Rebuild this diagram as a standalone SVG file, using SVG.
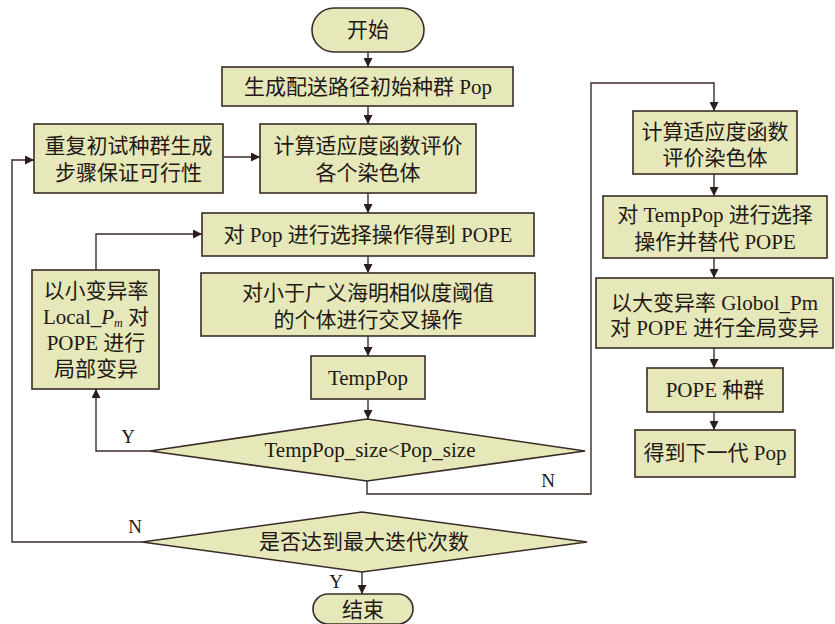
<svg xmlns="http://www.w3.org/2000/svg" width="835" height="624" viewBox="0 0 835 624">
<defs>
<style>
.n{fill:#e6e8b9;stroke:#3a2b26;stroke-width:1.6}
.t{font-family:"Liberation Serif","Noto Sans CJK SC",serif;font-size:21px;fill:#231815;text-anchor:middle}
.l{font-family:"Liberation Serif",serif;font-size:19px;fill:#231815;text-anchor:middle}
.c{fill:none;stroke:#3a2b26;stroke-width:1.4}
</style>
<marker id="a" viewBox="0 0 10 10" refX="10" refY="5" markerWidth="9" markerHeight="9" markerUnits="userSpaceOnUse" orient="auto">
<path d="M0,0 L10,5 L0,10 Z" fill="#2a1d1a"/>
</marker>
</defs>
<rect width="835" height="624" fill="#ffffff"/>
<g id="connectors">
<path class="c" marker-end="url(#a)" d="M368,52 V67"/>
<path class="c" marker-end="url(#a)" d="M368,106 V124"/>
<path class="c" marker-end="url(#a)" d="M223,157 H260"/>
<path class="c" marker-end="url(#a)" d="M142,542 H12 V160 H34"/>
<path class="c" marker-end="url(#a)" d="M368,193 V213"/>
<path class="c" marker-end="url(#a)" d="M368,256 V273"/>
<path class="c" marker-end="url(#a)" d="M368,336 V356"/>
<path class="c" marker-end="url(#a)" d="M368,399 V419"/>
<path class="c" marker-end="url(#a)" d="M150,451 H96 V389"/>
<path class="c" marker-end="url(#a)" d="M96,270 V234 H202"/>
<path class="c" marker-end="url(#a)" d="M367,481 V494 H591 V83 H714 V111"/>
<path class="c" marker-end="url(#a)" d="M714,174 V196"/>
<path class="c" marker-end="url(#a)" d="M714,258 V278"/>
<path class="c" marker-end="url(#a)" d="M714,348 V368"/>
<path class="c" marker-end="url(#a)" d="M714,412 V430"/>
<path class="c" marker-end="url(#a)" d="M362,572 V594"/>
<text class="l" x="128" y="443">Y</text>
<text class="l" x="548" y="487">N</text>
<text class="l" x="135" y="533">N</text>
<text class="l" x="336" y="588">Y</text>
</g>
<g id="start"><rect class="n" x="312" y="8" width="112" height="44" rx="22"/><text class="t" x="368" y="37">开始</text></g>
<g id="init"><rect class="n" x="222" y="67" width="291" height="39"/><text class="t" x="368" y="94">生成配送路径初始种群 Pop</text></g>
<g id="fit1"><rect class="n" x="260" y="124" width="216" height="69"/><text class="t" x="368" y="153">计算适应度函数评价</text><text class="t" x="368" y="180">各个染色体</text></g>
<g id="repeat"><rect class="n" x="34" y="124" width="189" height="69"/><text class="t" x="128.5" y="153">重复初试种群生成</text><text class="t" x="128.5" y="180">步骤保证可行性</text></g>
<g id="select"><rect class="n" x="202" y="213" width="332" height="43"/><text class="t" x="368" y="242">对 Pop 进行选择操作得到 POPE</text></g>
<g id="cross"><rect class="n" x="201" y="273" width="334" height="63"/><text class="t" x="368" y="300">对小于广义海明相似度阈值</text><text class="t" x="368" y="327">的个体进行交叉操作</text></g>
<g id="temppop"><rect class="n" x="311" y="356" width="114" height="43"/><text class="t" x="368" y="385">TempPop</text></g>
<g id="dia1"><polygon class="n" points="367,419 585,451 367,481 150,451"/><text class="t" x="370" y="457">TempPop_size&lt;Pop_size</text></g>
<g id="local"><rect class="n" x="32" y="270" width="127" height="119"/>
<text class="t" x="96" y="298">以小变异率</text>
<text class="t" x="96" y="324">Local_<tspan font-style="italic">P</tspan><tspan font-style="italic" font-size="12" dy="3">m</tspan><tspan dy="-3"> 对</tspan></text>
<text class="t" x="96" y="350">POPE 进行</text>
<text class="t" x="96" y="376">局部变异</text></g>
<g id="dia2"><polygon class="n" points="362,512 587,542 362,572 142,542"/><text class="t" x="364" y="549">是否达到最大迭代次数</text></g>
<g id="end"><rect class="n" x="313" y="594" width="100" height="30" rx="15"/><text class="t" x="363" y="617">结束</text></g>
<g id="fit2"><rect class="n" x="633" y="111" width="164" height="63"/><text class="t" x="715" y="139">计算适应度函数</text><text class="t" x="715" y="165">评价染色体</text></g>
<g id="tempsel"><rect class="n" x="603" y="196" width="224" height="62"/><text class="t" x="715" y="222">对 TempPop 进行选择</text><text class="t" x="715" y="249">操作并替代 POPE</text></g>
<g id="global"><rect class="n" x="596" y="278" width="237" height="70"/><text class="t" x="714.5" y="310">以大变异率 Globol_Pm</text><text class="t" x="714.5" y="335">对 POPE 进行全局变异</text></g>
<g id="pope"><rect class="n" x="647" y="368" width="136" height="44"/><text class="t" x="715" y="397">POPE 种群</text></g>
<g id="next"><rect class="n" x="635" y="430" width="160" height="47"/><text class="t" x="715" y="460">得到下一代 Pop</text></g>
</svg>
